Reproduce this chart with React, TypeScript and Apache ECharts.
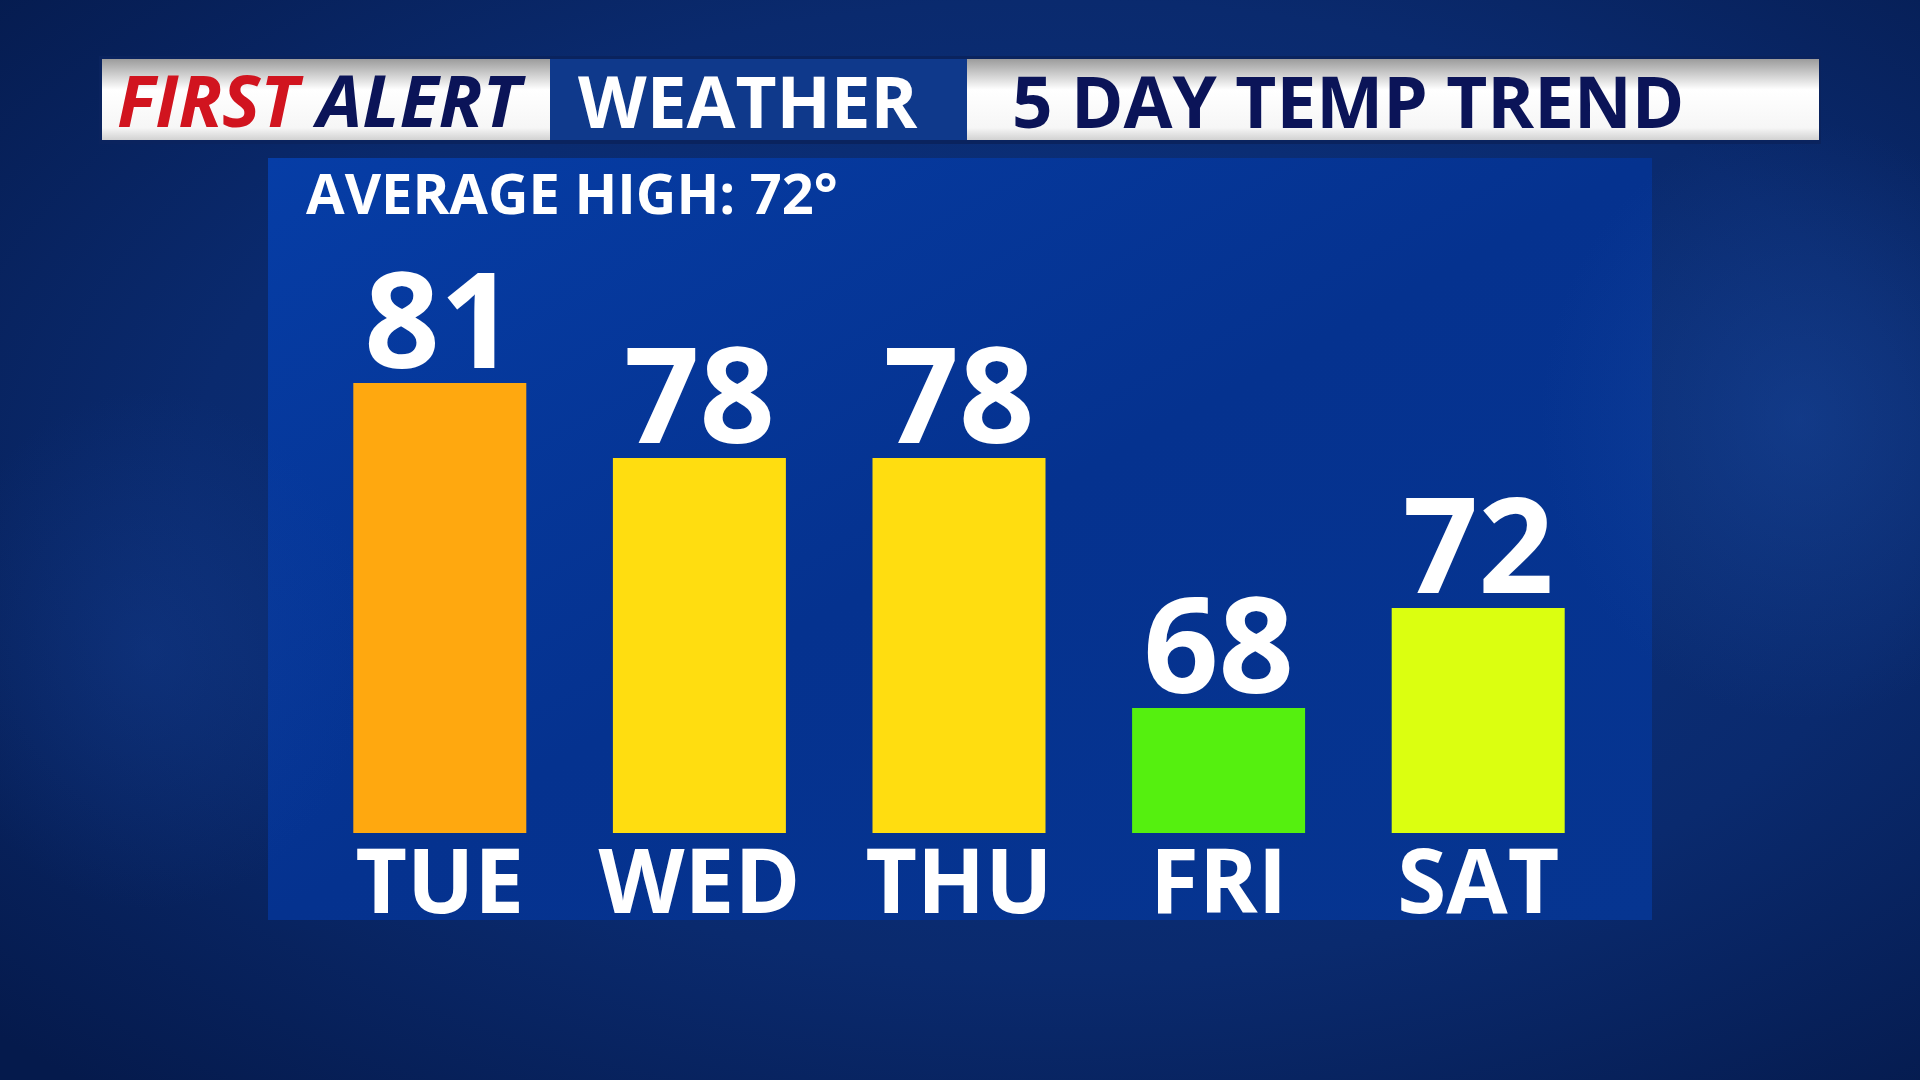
import React, { useEffect, useRef } from "react";
import * as echarts from "echarts";

const days = ["TUE", "WED", "THU", "FRI", "SAT"];
const highs = [81, 78, 78, 68, 72];
const barColors = ["#FFA80F", "#FFDD10", "#FFDD10", "#55F00F", "#DBFF10"];
const headerLeftRed = "FIRST";
const headerLeftNavy = "ALERT";
const headerMid = "WEATHER";
const headerRight = "5 DAY TEMP TREND";
const averageText = "AVERAGE HIGH: 72°";

const FONT = "'Open Sans', 'DejaVu Sans', sans-serif";

export default function App() {
  const ref = useRef<HTMLDivElement>(null);
  useEffect(() => {
    if (!ref.current) return;
    const chart = echarts.init(ref.current, null, { renderer: "svg" });
    const mkWhite = () =>
      new echarts.graphic.LinearGradient(0, 0, 0, 1, [
        { offset: 0, color: "#9c9c9c" },
        { offset: 0.38, color: "#ffffff" },
        { offset: 0.85, color: "#f6f6f6" },
        { offset: 1, color: "#d2d2d2" },
      ]);
    const option: any = {
      animation: false,
      backgroundColor: new echarts.graphic.RadialGradient(0.55, 0.45, 0.75, [
        { offset: 0, color: "#0c3584" },
        { offset: 0.6, color: "#0a2a6e" },
        { offset: 1, color: "#051a4c" },
      ]),
      grid: { left: 310, width: 1298, top: 383, height: 450 },
      xAxis: {
        type: "category",
        data: days,
        axisLine: { show: false },
        axisTick: { show: false },
        axisLabel: {
          interval: 0,
          hideOverlap: false,
          color: "#ffffff",
          fontFamily: FONT,
          fontWeight: "bold",
          fontSize: 89,
          lineHeight: 89,
          margin: 1,
        },
      },
      yAxis: {
        type: "value",
        min: 63,
        max: 81,
        show: false,
        splitLine: { show: false },
      },
      graphic: [
        {
          type: "ellipse",
          shape: { cx: 1800, cy: 420, rx: 260, ry: 300 },
          style: {
            fill: new echarts.graphic.RadialGradient(0.5, 0.5, 0.5, [
              { offset: 0, color: "rgba(30,80,170,0.4)" },
              { offset: 1, color: "rgba(30,80,170,0)" },
            ]),
          },
          silent: true,
        },
        {
          type: "ellipse",
          shape: { cx: 150, cy: 650, rx: 220, ry: 260 },
          style: {
            fill: new echarts.graphic.RadialGradient(0.5, 0.5, 0.5, [
              { offset: 0, color: "rgba(25,70,160,0.3)" },
              { offset: 1, color: "rgba(25,70,160,0)" },
            ]),
          },
          silent: true,
        },
        {
          type: "rect",
          shape: { x: 99, y: 56, width: 1722, height: 88 },
          style: { fill: "#0a235e" },
          silent: true,
        },
        {
          type: "rect",
          shape: { x: 102, y: 59, width: 448, height: 81 },
          style: { fill: mkWhite() },
          silent: true,
        },
        {
          type: "rect",
          shape: { x: 550, y: 59, width: 417, height: 81 },
          style: { fill: "#0f398b" },
          silent: true,
        },
        {
          type: "rect",
          shape: { x: 967, y: 59, width: 852, height: 81 },
          style: { fill: mkWhite() },
          silent: true,
        },
        {
          type: "text",
          style: {
            text: headerLeftRed,
            x: 117,
            y: 99,
            fill: "#d1141f",
            font: `italic bold 72px ${FONT}`,
            textAlign: "left",
            textVerticalAlign: "middle",
          },
          silent: true,
        },
        {
          type: "text",
          style: {
            text: headerLeftNavy,
            x: 317,
            y: 99,
            fill: "#0b1458",
            font: `italic bold 72px ${FONT}`,
            textAlign: "left",
            textVerticalAlign: "middle",
          },
          silent: true,
        },
        {
          type: "text",
          style: {
            text: headerMid,
            x: 578,
            y: 100,
            fill: "#ffffff",
            font: `bold 71px ${FONT}`,
            textAlign: "left",
            textVerticalAlign: "middle",
          },
          silent: true,
        },
        {
          type: "text",
          style: {
            text: headerRight,
            x: 1012,
            y: 100,
            fill: "#0b1458",
            font: `bold 71px ${FONT}`,
            textAlign: "left",
            textVerticalAlign: "middle",
          },
          silent: true,
        },
        {
          type: "rect",
          z: -10,
          shape: { x: 268, y: 158, width: 1384, height: 762 },
          style: {
            fill: new echarts.graphic.LinearGradient(0, 0, 1, 1, [
              { offset: 0, color: "#063da6" },
              { offset: 0.5, color: "#05328f" },
              { offset: 1, color: "#063591" },
            ]),
          },
          silent: true,
        },
        {
          type: "text",
          style: {
            text: averageText,
            x: 306,
            y: 192,
            fill: "#ffffff",
            font: `bold 56px ${FONT}`,
            textAlign: "left",
            textVerticalAlign: "middle",
          },
          silent: true,
        },
      ],
      series: [
        {
          type: "bar",
          data: highs.map((v, i) => ({ value: v, itemStyle: { color: barColors[i] } })),
          barWidth: 173,
          label: {
            show: true,
            position: "top",
            distance: 0,
            color: "#ffffff",
            fontFamily: FONT,
            fontWeight: "bold",
            fontSize: 132,
            lineHeight: 132,
          },
        },
      ],
    };
    chart.setOption(option);
    return () => chart.dispose();
  }, []);
  return (
    <div
      ref={ref}
      style={{ position: "fixed", left: 0, top: 0, width: 1920, height: 1080 }}
    />
  );
}
